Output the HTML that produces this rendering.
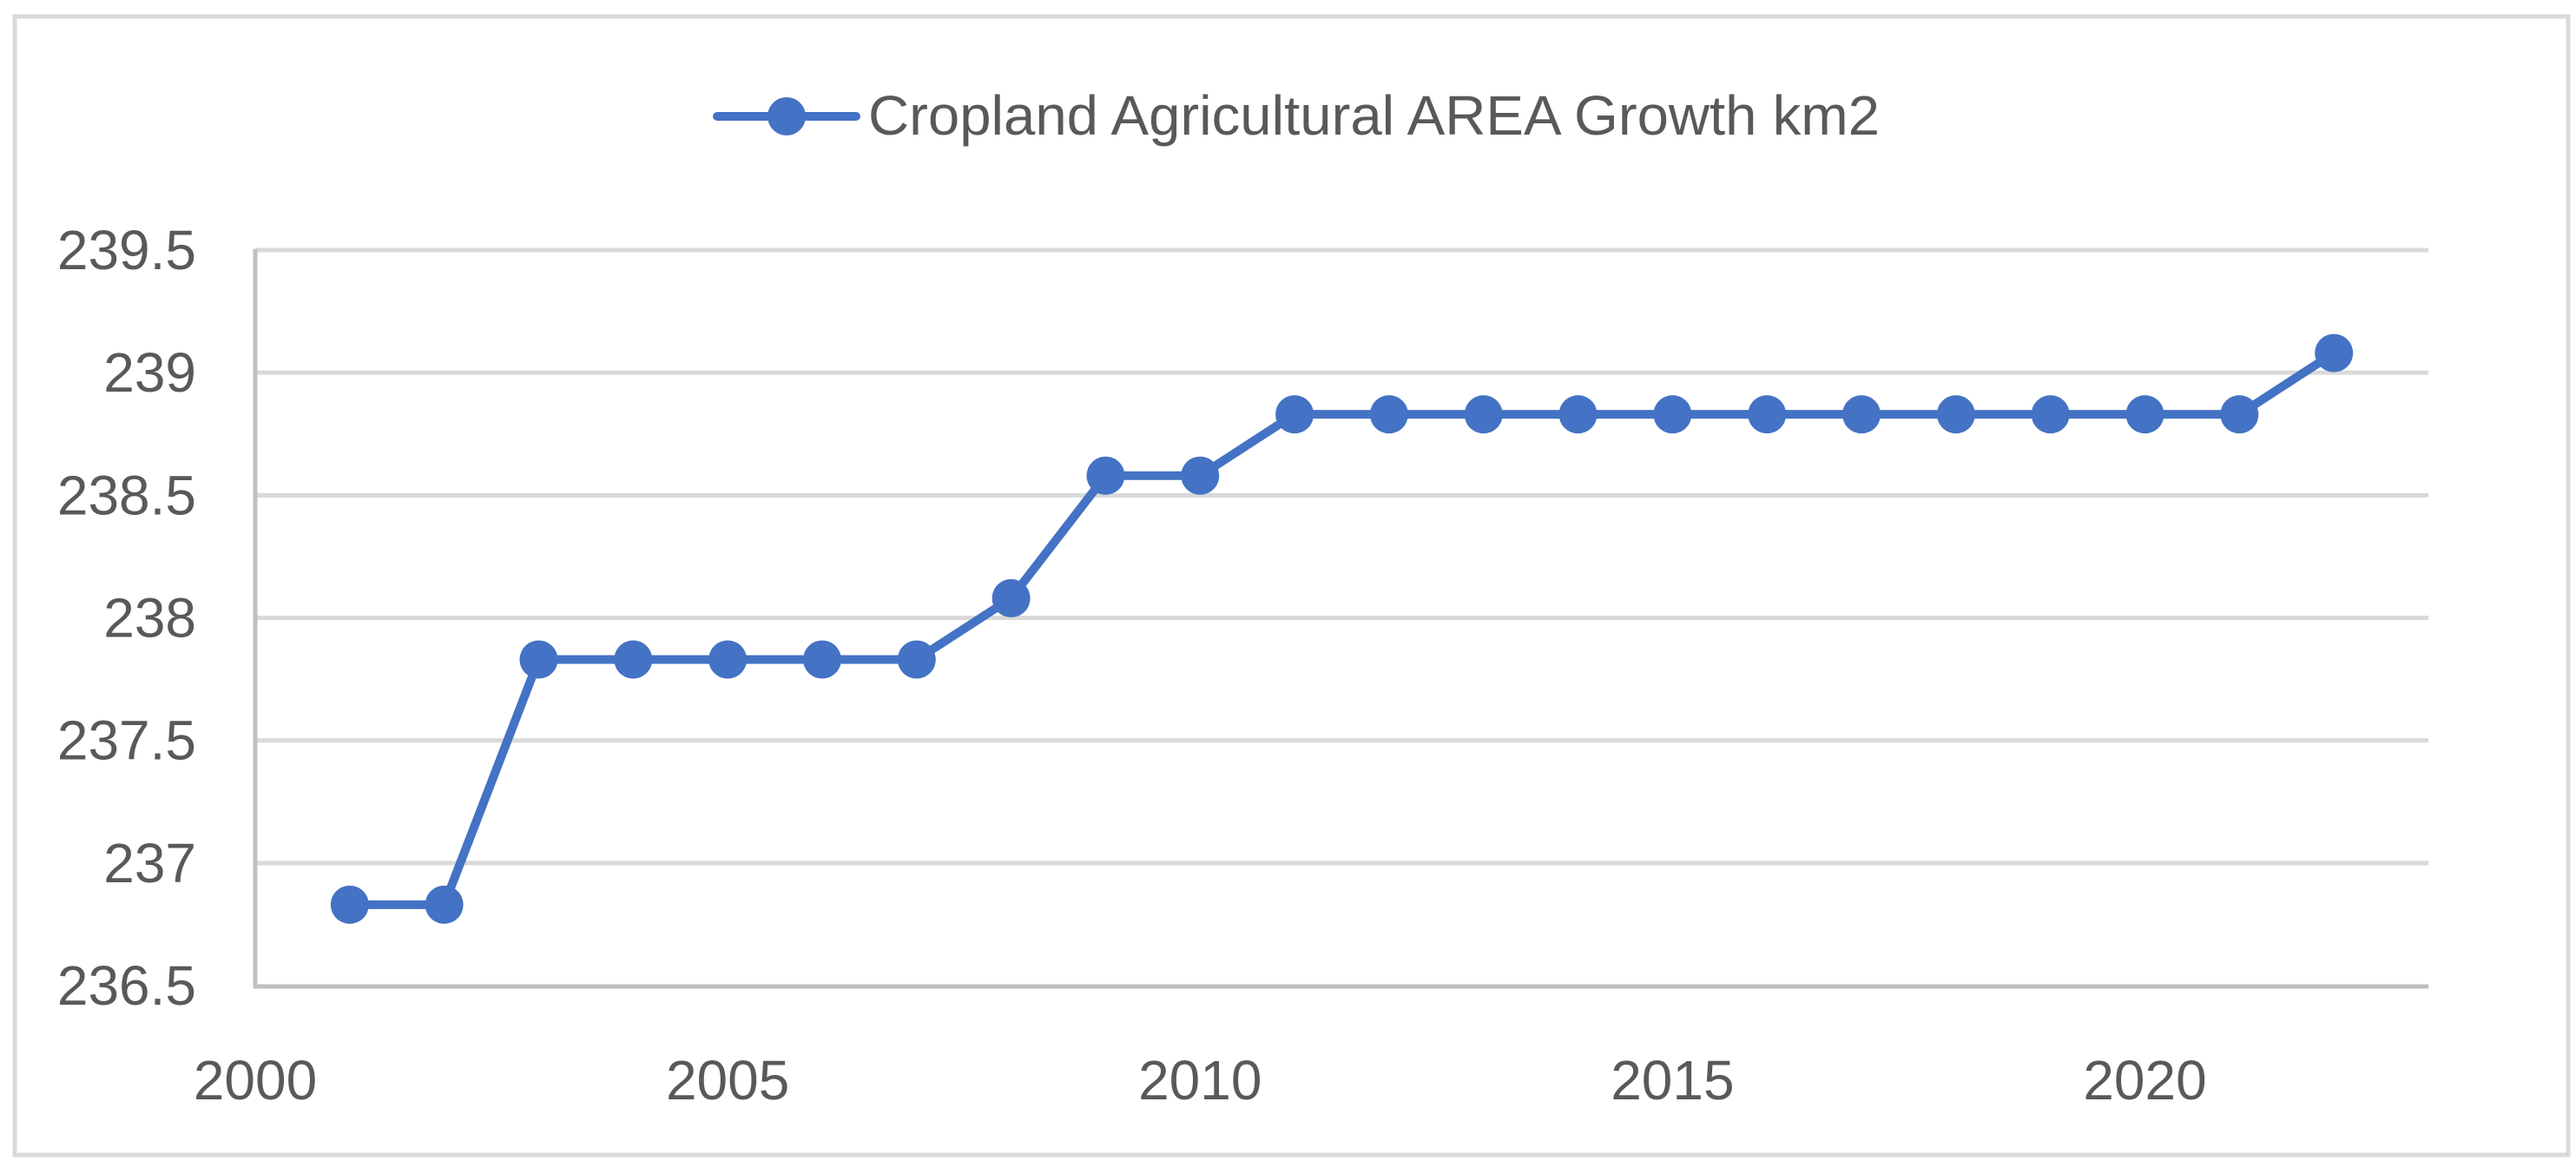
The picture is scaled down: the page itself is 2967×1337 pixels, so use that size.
<!DOCTYPE html>
<html><head><meta charset="utf-8"><style>
html,body{margin:0;padding:0;background:#fff;}
svg{display:block;font-family:"Liberation Sans",sans-serif;}
</style></head><body>
<svg id="chart" width="2967" height="1337" viewBox="0 0 2967 1337">
<rect x="17" y="19" width="2941" height="1311" fill="#fff" stroke="#d9d9d9" stroke-width="5"/>
<g id="grid"></g>
<g id="yticks"></g>
<g id="xticks"></g>
<line x1="294" y1="287" x2="294" y2="1136" stroke="#bfbfbf" stroke-width="5"/>
<line x1="292" y1="1136" x2="2797" y2="1136" stroke="#bfbfbf" stroke-width="5"/>
<g id="series"></g>
<g>
<line x1="826" y1="134" x2="986" y2="134" stroke="#4472c4" stroke-width="10" stroke-linecap="round"/>
<circle cx="906" cy="134" r="22" fill="#4472c4"/>
<text x="1000" y="155" font-size="64" fill="#595959" textLength="1165" lengthAdjust="spacingAndGlyphs">Cropland Agricultural AREA  Growth km2</text>
</g>
</svg>
<script>
const years = [2001,2002,2003,2004,2005,2006,2007,2008,2009,2010,2011,2012,2013,2014,2015,2016,2017,2018,2019,2020,2021,2022];
const values = [236.83,236.83,237.83,237.83,237.83,237.83,237.83,238.08,238.58,238.58,238.83,238.83,238.83,238.83,238.83,238.83,238.83,238.83,238.83,238.83,238.83,239.08];
const yTicks = [236.5,237,237.5,238,238.5,239,239.5];
const yTickLabels = ["236.5","237","237.5","238","238.5","239","239.5"];
const xTicks = [2000,2005,2010,2015,2020];

const NS="http://www.w3.org/2000/svg";
const X0=294,X1=2797,Y0=1135,Y1=288;
function xs(v){return X0+(v-2000)/(2023-2000)*(X1-X0);}
function ys(v){return Y0-(v-236.5)/(239.5-236.5)*(Y0-Y1);}
function mk(tag,attrs,parent){const e=document.createElementNS(NS,tag);for(const k in attrs)e.setAttribute(k,attrs[k]);parent.appendChild(e);return e;}
const grid=document.getElementById('grid'),yt=document.getElementById('yticks'),xt=document.getElementById('xticks'),ser=document.getElementById('series');
yTicks.forEach((v,i)=>{
  if(i>0){const l=mk('line',{x1:X0,x2:X1,y1:ys(v),y2:ys(v),stroke:'#d9d9d9','stroke-width':5},grid);
  
  }
  const t=mk('text',{x:226,y:ys(v)+22,'font-size':64,fill:'#595959','text-anchor':'end'},yt);
  t.textContent=yTickLabels[i];
  
  
});
xTicks.forEach(v=>{
  const t=mk('text',{x:xs(v),y:1266,'font-size':64,fill:'#595959','text-anchor':'middle'},xt);
  t.textContent=String(v);
  
  
});
const pts=years.map((y,i)=>xs(y)+','+ys(values[i])).join(' ');
const pl=mk('polyline',{points:pts,fill:'none',stroke:'#4472c4','stroke-width':10,'stroke-linejoin':'round'},ser);


years.forEach((y,i)=>{
  const c=mk('circle',{cx:xs(y),cy:ys(values[i]),r:22,fill:'#4472c4'},ser);
  
  
});
</script>
</body></html>
